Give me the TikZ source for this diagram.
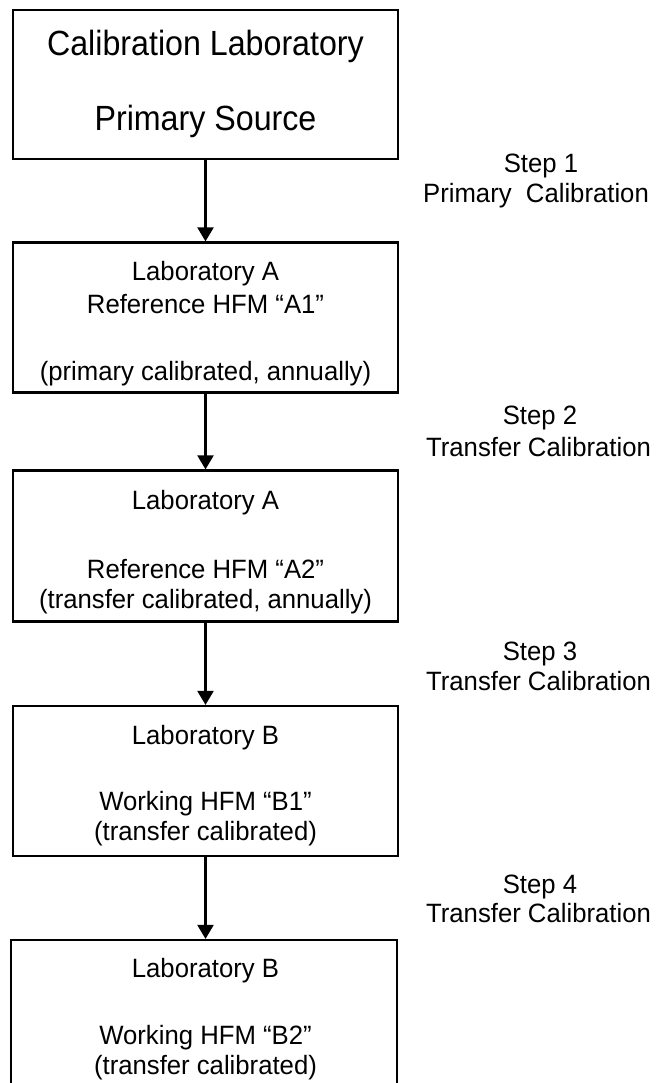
\documentclass[tikz,border=0pt]{standalone}
\usepackage{fontspec}
\setmainfont{Liberation Sans}
\newfontfamily\bigfont[FakeStretch=0.92]{Liberation Sans}
\newfontfamily\smallfont[FakeStretch=0.97]{Liberation Sans}
\usetikzlibrary{arrows.meta}
\tikzset{
  box/.style={draw=black, line width=2.2pt, inner sep=0pt},
  arr/.style={line width=2.2pt, -{Triangle[length=14pt,width=16pt]}},
  bigtxt/.style={anchor=base, inner sep=0pt, font=\bigfont\fontsize{35pt}{40pt}\selectfont},
  txt/.style={anchor=base, inner sep=0pt, font=\smallfont\fontsize{26.5pt}{30pt}\selectfont},
}
\begin{document}
\begin{tikzpicture}[x=1pt,y=-1pt]
\useasboundingbox (0,0) rectangle (657,1083);
% boxes
\node[box, minimum width=385pt, minimum height=149pt] (b1) at (205.5,84.5) {};
\node[box, minimum width=385pt, minimum height=150pt] (b2) at (205.5,317.5) {};
\node[box, minimum width=385pt, minimum height=151pt] (b3) at (205.5,546) {};
\node[box, minimum width=385pt, minimum height=150pt] (b4) at (205.5,781) {};
\node[box, minimum width=386pt, minimum height=160pt] (b5) at (204,1020) {};
% box texts
\node[bigtxt] (t11) at (205.5,56) {Calibration Laboratory};
\node[bigtxt] (t12) at (205.5,131) {Primary Source};
\node[txt] (t21) at (205.5,280) {Laboratory A};
\node[txt] (t22) at (205.5,313) {Reference HFM “A1”};
\node[txt] (t23) at (205.5,380) {(primary calibrated, annually)};
\node[txt] (t31) at (205.5,509) {Laboratory A};
\node[txt] (t32) at (205.5,578) {Reference HFM “A2”};
\node[txt] (t33) at (205.5,608) {(transfer calibrated, annually)};
\node[txt] (t41) at (205.5,744) {Laboratory B};
\node[txt] (t42) at (205.5,810) {Working HFM “B1”};
\node[txt] (t43) at (205.5,840) {(transfer calibrated)};
\node[txt] (t51) at (205.5,977) {Laboratory B};
\node[txt] (t52) at (205.5,1044) {Working HFM “B2”};
\node[txt] (t53) at (205.5,1074) {(transfer calibrated)};
% step labels
\node[txt] (s1a) at (541,173) {Step 1};
\node[txt] (s1b) at (536,203) {Primary\ \ Calibration};
\node[txt] (s2a) at (540,424) {Step 2};
\node[txt] (s2b) at (538.5,456) {Transfer Calibration};
\node[txt] (s3a) at (540,660) {Step 3};
\node[txt] (s3b) at (538.5,690) {Transfer Calibration};
\node[txt] (s4a) at (540,893) {Step 4};
\node[txt] (s4b) at (538.5,922) {Transfer Calibration};
% arrows
\draw[arr] (b1.south) -- (b2.north);
\draw[arr] (b2.south) -- (b3.north);
\draw[arr] (b3.south) -- (b4.north);
\draw[arr] (b4.south) -- (b4.south |- b5.north);
\end{tikzpicture}
\end{document}
